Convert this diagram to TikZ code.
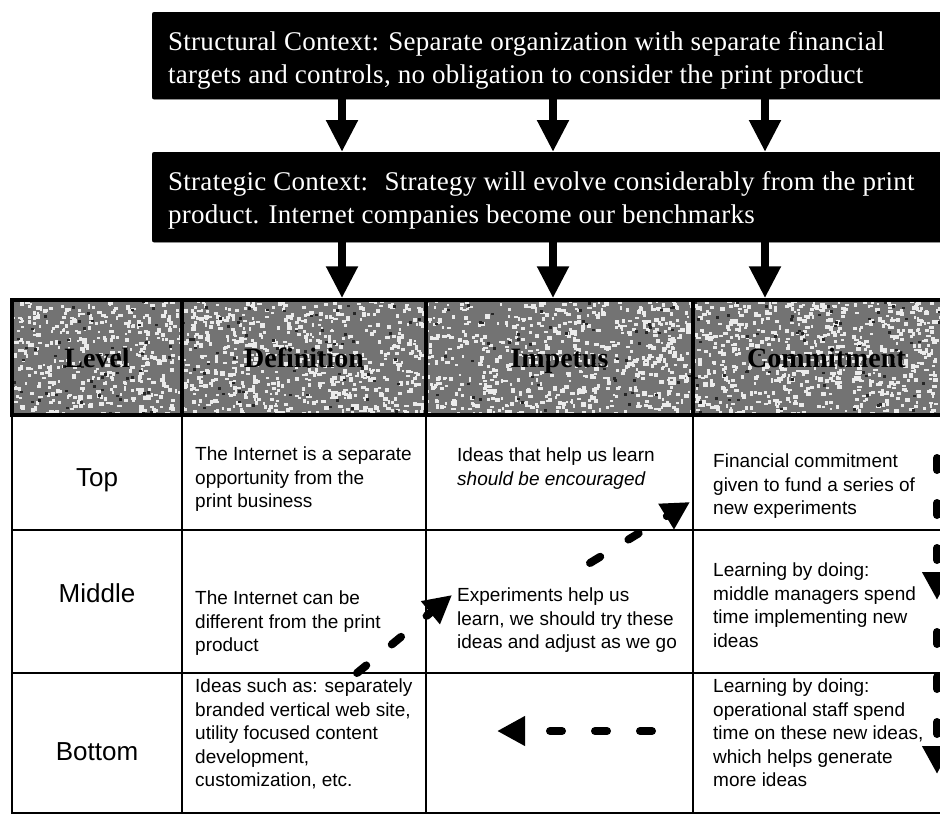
\documentclass[tikz,border=0pt]{standalone}
\usepackage{fontspec}
\setmainfont{Liberation Sans}
\newfontfamily\boxfont[LetterSpace=1]{Liberation Serif}
\newfontfamily\headfont{Liberation Serif}
\usetikzlibrary{arrows.meta}

\tikzset{
  ctxbox/.style={fill=black, draw=black, rounded corners=2pt, inner sep=0, anchor=north west},
  ctxtext/.style={text=white, font=\boxfont\fontsize{27}{33}\selectfont, align=left, anchor=north west, inner sep=0},
  flowarrow/.style={line width=8pt, -{Triangle[width=30pt,length=32pt]}},
  loopdash/.style={line width=8pt, line cap=round, dash pattern=on 12pt off 33pt, -{Triangle[width=28pt,length=28pt]}},
  hdrcell/.style={draw=black, line width=3.5pt, inner sep=0, minimum height=115pt,
    text height=19pt, text depth=0pt,
    font=\headfont\bfseries\fontsize{28}{30}\selectfont, text=black},
  rowlabel/.style={font=\fontsize{26}{28}\selectfont, inner sep=0},
  celltext/.style={font=\fontsize{19}{23.5}\selectfont, align=left, anchor=north west, inner sep=0},
  tablerule/.style={line width=2.5pt}
}

\begin{document}
\begin{tikzpicture}[x=1pt,y=-1pt]
\useasboundingbox (0,0) rectangle (940,815);
\clip (0,0) rectangle (940,815);

% arrow columns
\coordinate (c1) at (342,0);
\coordinate (c2) at (553,0);
\coordinate (c3) at (765,0);

% context boxes
\node[ctxbox, minimum width=810pt, minimum height=87pt] (box1) at (152,12) {};
\node[ctxtext] (box1text) at (168,31)
  {Structural Context: Separate organization with separate financial\\
   targets and controls, no obligation to consider the print product};
\node[ctxbox, minimum width=810pt, minimum height=90pt] (box2) at (152,152) {};
\node[ctxtext] (box2text) at (168,171)
  {Strategic Context:~ Strategy will evolve considerably from the print\\
   product. Internet companies become our benchmarks};

% speckled header band
\fill[black!55] (12,300) rectangle (960,415);
\begin{scope}
  \clip (12,300) rectangle (960,415);
  \pgfmathsetseed{17}
  \foreach \i in {1,...,2400}{
    \pgfmathsetmacro\rx{12+948*rnd}
    \pgfmathsetmacro\ry{300+115*rnd}
    \pgfmathsetmacro\rw{2+3*rnd}
    \pgfmathsetmacro\rh{2+2.5*rnd}
    \fill[white!92!black] (\rx,\ry) rectangle ++(\rw,\rh);
  }
  \foreach \i in {1,...,250}{
    \pgfmathsetmacro\rx{12+948*rnd}
    \pgfmathsetmacro\ry{300+115*rnd}
    \fill[black!85] (\rx,\ry) rectangle ++(3,2.5);
  }
\end{scope}

% header cells
\node[hdrcell, minimum width=170pt] (hLevel) at (97,357.5) {Level};
\node[hdrcell, minimum width=244pt] (hDef) at (304,357.5) {Definition};
\node[hdrcell, minimum width=267pt] (hImp) at (559.5,357.5) {Impetus};
\node[hdrcell, minimum width=267pt] (hCom) at (826.5,357.5) {Commitment};

% body grid
\draw[tablerule] (12,415) -- (12,813) -- (960,813);
\draw[tablerule] (12,530) -- (960,530);
\draw[tablerule] (12,673) -- (960,673);
\draw[tablerule] (182,415) -- (182,813);
\draw[tablerule] (426,415) -- (426,813);
\draw[tablerule] (693,415) -- (693,813);

% row labels
\node[rowlabel] (lTop) at (97,480) {Top};
\node[rowlabel] (lMid) at (97,593) {Middle};
\node[rowlabel] (lBot) at (97,752) {Bottom};

% cell texts
\node[celltext] (defTop) at (195,447) {The Internet is a separate\\opportunity from the\\print business};
\node[celltext] (impTop) at (457,448) {Ideas that help us learn\\\textit{should be encouraged}};
\node[celltext] (comTop) at (713,454) {Financial commitment\\given to fund a series of\\new experiments};
\node[celltext] (defMid) at (195,591) {The Internet can be\\different from the print\\product};
\node[celltext] (impMid) at (457,588) {Experiments help us\\learn, we should try these\\ideas and adjust as we go};
\node[celltext] (comMid) at (713,563) {Learning by doing:\\middle managers spend\\time implementing new\\ideas};
\node[celltext] (defBot) at (195,679) {Ideas such as: separately\\branded vertical web site,\\utility focused content\\development,\\customization, etc.};
\node[celltext] (comBot) at (713,679) {Learning by doing:\\operational staff spend\\time on these new ideas,\\which helps generate\\more ideas};

% solid flow arrows
\foreach \c in {c1,c2,c3}{
  \draw[flowarrow] (box1.south -| \c) -- (box2.north -| \c);
}
\draw[flowarrow] (box2.south -| c1) -- (hDef.north -| c1);
\draw[flowarrow] (box2.south -| c2) -- (hImp.north -| c2);
\draw[flowarrow] (box2.south -| c3) -- (hCom.north -| c3);

% dashed learning loop
\coordinate (d1s) at (357,673);
\coordinate (d1e) at (452,595);
\coordinate (d2s) at (590,563);
\coordinate (d2e) at (690,502);
\coordinate (d3s) at (652,731);
\coordinate (d3e) at (497,731);
\coordinate (d4s) at (937,458);
\coordinate (d4e) at (937,600);
\coordinate (d5s) at (937,632);
\coordinate (d5e) at (937,774);
\draw[loopdash] (d1s) -- (d1e);
\draw[loopdash] (d2s) -- (d2e);
\draw[loopdash] (d3s) -- (d3e);
\draw[loopdash] (d4s) -- (d4e);
\draw[loopdash] (d5s) -- (d5e);
\end{tikzpicture}
\end{document}
